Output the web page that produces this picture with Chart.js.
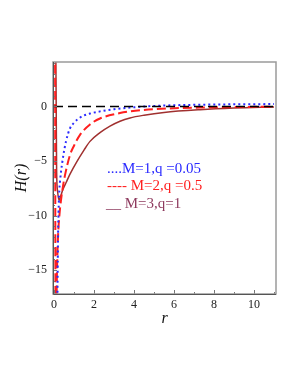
<!DOCTYPE html>
<html><head><meta charset="utf-8">
<script src="https://cdn.jsdelivr.net/npm/chart.js@4"></script>
<style>html,body{margin:0;padding:0;background:#fff;overflow:hidden}</style>
</head><body>
<canvas id="c" width="298" height="385"></canvas>
<script>
// ---- data ----
const blueR = [0.17,0.19,0.21,0.24,0.27,0.30,0.35,0.40,0.47,0.60,0.80,1.00,1.20,1.47,1.80,2.30,3.00,3.80,5.00,7.00,9.00,11.0];
const blueH = [-18,-14,-11,-8.9,-7.6,-6.9,-6.0,-5.3,-4.45,-3.2,-2.0,-1.5,-1.15,-0.85,-0.65,-0.45,-0.25,-0.1,0.05,0.15,0.2,0.22];

const redR = [0.055,0.075,0.12,0.15,0.20,0.27,0.35,0.45,0.55,0.80,1.00,1.30,1.80,2.30,3.30,3.80,5.00,7.30,9.00,11.0];
const redH = [5,-18,-18,-15,-12,-10,-8.6,-7.3,-6.3,-4.45,-3.6,-2.6,-1.65,-1.1,-0.6,-0.45,-0.25,-0.1,-0.05,-0.02];

const brownR = [0.09,0.11,0.13,0.18,0.25,0.32,0.45,0.60,0.80,1.13,1.50,1.80,2.30,2.80,3.30,3.80,4.50,5.50,7.30,9.00,11.0];
const brownH = [5,0,-5.8,-7.8,-8.6,-8.3,-7.6,-7.0,-6.2,-5.1,-4.0,-3.2,-2.4,-1.8,-1.35,-1.05,-0.8,-0.55,-0.3,-0.15,-0.05];

const zeroR = [0, 11.1];
const zeroH = [0, 0];

const xTicks = [0,2,4,6,8,10];
const yTicks = [-15,-10,-5,0];
const xMinor = [1,3,5,7,9,11];
const yMinor = [-17,-16,-14,-13,-12,-11,-9,-8,-7,-6,-4,-3,-2,-1,1,2,3,4];
const legendLabels = ['....M=1,q =0.05','---- M=2,q =0.5','__ M=3,q=1'];
const legendColors = ['#2a2aff','#ff1f1f','#8e3a5e'];

const pts = (xs, ys) => xs.map((x, i) => ({x, y: ys[i]}));
const SERIF = '"Liberation Serif", "DejaVu Serif", serif';

const framePlugin = {
  id: 'frame',
  afterDatasetsDraw(chart) {
    const {ctx, chartArea: a, scales: {x, y}} = chart;
    ctx.save();
    ctx.strokeStyle = '#777';
    ctx.lineWidth = 1;
    ctx.beginPath();
    xTicks.forEach(v => { const p = Math.round(x.getPixelForValue(v)) + 0.5; ctx.moveTo(p, a.bottom); ctx.lineTo(p, a.bottom - 4); });
    xMinor.forEach(v => { const p = Math.round(x.getPixelForValue(v)) + 0.5; ctx.moveTo(p, a.bottom); ctx.lineTo(p, a.bottom - 2); });
    yTicks.forEach(v => { const p = Math.round(y.getPixelForValue(v)) + 0.5; ctx.moveTo(a.left, p); ctx.lineTo(a.left + 4, p); });
    yMinor.forEach(v => { const p = Math.round(y.getPixelForValue(v)) + 0.5; ctx.moveTo(a.left, p); ctx.lineTo(a.left + 2, p); });
    ctx.stroke();
    ctx.strokeStyle = '#9a9a9a';
    ctx.lineWidth = 1.5;
    ctx.strokeRect(a.left, a.top, a.right - a.left, a.bottom - a.top);
    ctx.strokeStyle = '#555';
    ctx.lineWidth = 1;
    ctx.beginPath();
    ctx.moveTo(a.left + 0.5, a.top); ctx.lineTo(a.left + 0.5, a.bottom + 0.5); ctx.lineTo(a.right, a.bottom + 0.5);
    ctx.stroke();
    ctx.font = '15px ' + SERIF;
    ctx.textBaseline = 'alphabetic';
    ctx.textAlign = 'left';
    const lx = [107, 107, 106], ly = [173, 190, 208];
    legendLabels.forEach((t, i) => { ctx.fillStyle = legendColors[i]; ctx.fillText(t, lx[i], ly[i]); });
    ctx.restore();
  }
};

new Chart(document.getElementById('c'), {
  type: 'scatter',
  data: {
    datasets: [
      {label: 'zero', data: pts(zeroR, zeroH), showLine: true, borderColor: '#000', borderWidth: 1.6, borderDash: [9, 5], pointRadius: 0, order: 0, clip: 0},
      {label: 'M=1,q=0.05', data: pts(blueR, blueH), showLine: true, borderColor: '#2a2aff', borderWidth: 2, borderDash: [2, 3], pointRadius: 0, cubicInterpolationMode: 'monotone', order: 1, clip: 0},
      {label: 'M=2,q=0.5', data: pts(redR, redH), showLine: true, borderColor: '#ff1f1f', borderWidth: 2, borderDash: [9, 4], pointRadius: 0, cubicInterpolationMode: 'monotone', order: 2, clip: 0},
      {label: 'M=3,q=1', data: pts(brownR, brownH), showLine: true, borderColor: '#a0302f', borderWidth: 1.5, pointRadius: 0, cubicInterpolationMode: 'monotone', order: 3, clip: 0}
    ]
  },
  options: {
    responsive: false,
    animation: false,
    events: [],
    layout: {padding: {left: 10, right: 22, top: 62, bottom: 51}},
    plugins: {legend: {display: false}, tooltip: {enabled: false}},
    scales: {
      x: {
        type: 'linear', min: -0.05, max: 11.1,
        afterFit: s => { s.height = 40; },
        afterBuildTicks: s => { s.ticks = xTicks.map(v => ({value: v})); },
        grid: {display: false, drawTicks: false},
        border: {display: false},
        ticks: {padding: 4, color: '#222', font: {family: SERIF, size: 12}, maxRotation: 0},
        title: {display: true, text: 'r', color: '#111', font: {family: SERIF, size: 16, style: 'italic'}, padding: {top: 0, bottom: 6}}
      },
      y: {
        type: 'linear', min: -17.2, max: 4.08,
        afterFit: s => { s.width = 43; },
        afterBuildTicks: s => { s.ticks = yTicks.map(v => ({value: v})); },
        grid: {display: false, drawTicks: false},
        border: {display: false},
        ticks: {padding: 6, color: '#222', font: {family: SERIF, size: 12},
          callback: v => v < 0 ? '\u2212' + Math.abs(v) : String(v)},
        title: {display: true, text: 'H(r)', color: '#111', font: {family: SERIF, size: 16, style: 'italic'}, padding: {top: 2, bottom: 0}}
      }
    }
  },
  plugins: [framePlugin]
});
</script>
</body></html>
